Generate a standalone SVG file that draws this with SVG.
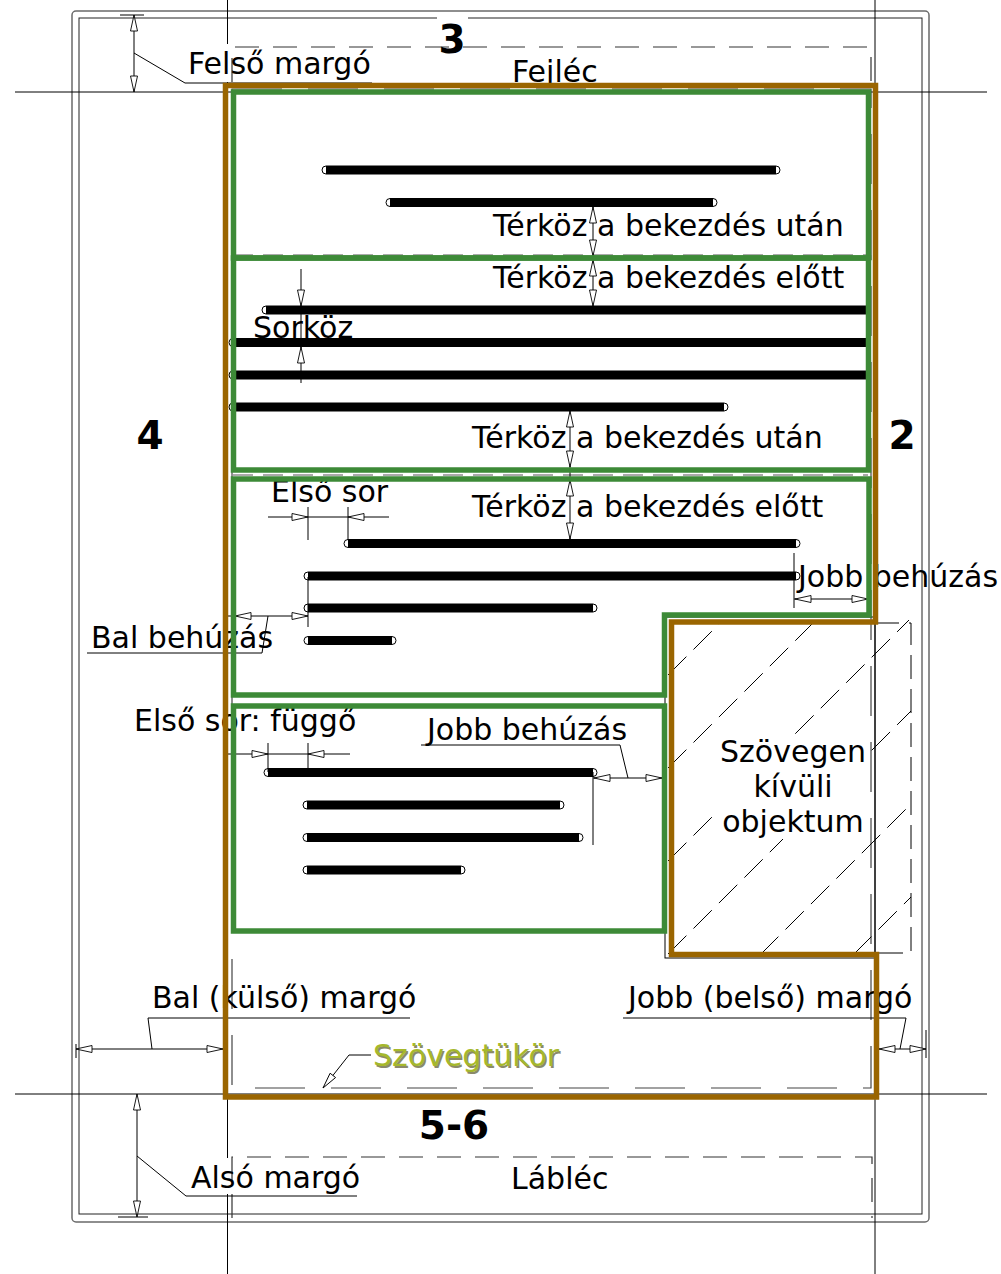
<svg xmlns="http://www.w3.org/2000/svg" xmlns:xlink="http://www.w3.org/1999/xlink" width="1001" height="1274" viewBox="0 0 1001 1274">
<style>
.t{font-family:"DejaVu Sans",Verdana,sans-serif;font-size:30px;fill:#000}
.n{font-family:"DejaVu Sans",Verdana,sans-serif;font-weight:bold;font-size:39px;fill:#000}
.gl{stroke:#000;stroke-width:1;fill:none}
.d{stroke:#000;stroke-width:1;fill:none}
.ah{fill:#fff;stroke:#000;stroke-width:0.9}
.gr{fill:none;stroke:#3d8a37;stroke-width:5.5}
.br{fill:none;stroke:#9a6500;stroke-width:5.5}
.dsh{fill:none;stroke:#333;stroke-width:1.2;stroke-dasharray:24 14}
.dsh2{fill:none;stroke:#444;stroke-width:1.2;stroke-dasharray:50 26}
.hat{stroke:#000;stroke-width:1;stroke-dasharray:26 10;fill:none}
.cap{fill:#fff;stroke:#000;stroke-width:1}
.bar{fill:#000}
.wb{fill:#fff}
</style>
<defs>
<path id="ah" class="ah" d="M0,0 L-16,-3.5 L-16,3.5 Z"/>
</defs>

<g id="page">
<rect x="72" y="11" width="857" height="1211" rx="4" fill="none" stroke="#6a6a6a" stroke-width="1.5"/>
<rect x="79" y="18" width="843" height="1196" fill="none" stroke="#222" stroke-width="1"/>
</g>

<g id="guides">
<line class="gl" x1="227.5" y1="0" x2="227.5" y2="1274"/>
<line class="gl" x1="875" y1="0" x2="875" y2="1274"/>
<line class="gl" x1="15" y1="92" x2="987" y2="92"/>
<line class="gl" x1="15" y1="1094" x2="987" y2="1094"/>
</g>

<g id="backgrounds">
<rect class="wb" x="186" y="44" width="186" height="38"/>
<rect class="wb" x="189" y="1158" width="170" height="36"/>
<rect class="wb" x="437" y="14" width="31" height="42"/>
</g>

<g id="header">
<path class="dsh" d="M232,82 V47 H871 V82"/>
</g>
<g id="footer">
<path class="dsh" d="M232,1218 V1157 H872 V1218"/>
</g>
<g id="text-area-outline">
<rect class="dsh2" x="232" y="89" width="639" height="999"/>
<line x1="233" y1="255" x2="868" y2="255" stroke="#555" stroke-width="1" stroke-dasharray="20 10"/>
<line x1="233" y1="475" x2="868" y2="475" stroke="#555" stroke-width="1" stroke-dasharray="20 10"/>
</g>

<g id="object">
<rect x="665" y="617" width="210" height="341" fill="none" stroke="#000" stroke-width="1"/>
<path d="M875,623 H911 V953 H875" fill="none" stroke="#000" stroke-width="1" stroke-dasharray="24 10"/>
<line class="hat" x1="668" y1="675" x2="723" y2="620"/>
<line class="hat" x1="668" y1="768" x2="816" y2="620"/>
<line class="hat" x1="668" y1="861" x2="909" y2="620"/>
<line class="hat" x1="668" y1="954" x2="911" y2="711"/>
<line class="hat" x1="760" y1="955" x2="911" y2="804"/>
<line class="hat" x1="853" y1="955" x2="911" y2="897"/>
<rect class="wb" x="718" y="737" width="150" height="102"/>
<text class="t" x="793" y="762" text-anchor="middle">Szövegen</text>
<text class="t" x="793" y="797" text-anchor="middle">kívüli</text>
<text class="t" x="793" y="832" text-anchor="middle">objektum</text>
</g>

<g id="labels">
<text class="n" x="452" y="53" text-anchor="middle">3</text>
<text class="n" x="150" y="449" text-anchor="middle">4</text>
<text class="n" x="902" y="449" text-anchor="middle">2</text>
<text class="n" x="454" y="1139" text-anchor="middle">5-6</text>
<text class="t" x="188" y="74">Felső margó</text>
<text class="t" x="512" y="82">Fejléc</text>
<text class="t" x="493" y="236">Térköz a bekezdés után</text>
<text class="t" x="493" y="288">Térköz a bekezdés előtt</text>
<text class="t" x="253" y="338">Sorköz</text>
<text class="t" x="472" y="448">Térköz a bekezdés után</text>
<text class="t" x="271" y="502">Első sor</text>
<text class="t" x="472" y="517">Térköz a bekezdés előtt</text>
<text class="t" x="798" y="587">Jobb behúzás</text>
<text class="t" x="91" y="648">Bal behúzás</text>
<text class="t" x="134" y="731">Első sor: függő</text>
<text class="t" x="427" y="740">Jobb behúzás</text>
<text class="t" x="152" y="1008">Bal (külső) margó</text>
<text class="t" x="628" y="1008">Jobb (belső) margó</text>
<text class="t" x="374.5" y="1067.5" style="fill:#8a8a6a">Szövegtükör</text>
<text class="t" x="373" y="1066" style="fill:#a6b82c">Szövegtükör</text>
<text class="t" x="191" y="1188">Alsó margó</text>
<text class="t" x="511" y="1189">Lábléc</text>
</g>

<g id="paragraph-lines">
<rect class="cap" x="322" y="166" width="458" height="8" rx="4"/><rect class="bar" x="326" y="166" width="450" height="8"/>
<rect class="cap" x="386" y="198.5" width="331" height="8" rx="4"/><rect class="bar" x="390" y="198.5" width="323" height="8"/>
<rect class="cap" x="262" y="306" width="608" height="8" rx="4"/><rect class="bar" x="266" y="306" width="600" height="8"/>
<rect class="cap" x="229" y="338.5" width="641" height="8" rx="4"/><rect class="bar" x="233" y="338.5" width="633" height="8"/>
<rect class="cap" x="229" y="371" width="641" height="8" rx="4"/><rect class="bar" x="233" y="371" width="633" height="8"/>
<rect class="cap" x="229" y="403" width="499" height="8" rx="4"/><rect class="bar" x="233" y="403" width="491" height="8"/>
<rect class="cap" x="344" y="539.5" width="456" height="8" rx="4"/><rect class="bar" x="348" y="539.5" width="448" height="8"/>
<rect class="cap" x="304" y="572" width="496" height="8" rx="4"/><rect class="bar" x="308" y="572" width="488" height="8"/>
<rect class="cap" x="304" y="604" width="293" height="8" rx="4"/><rect class="bar" x="308" y="604" width="285" height="8"/>
<rect class="cap" x="304" y="636.5" width="92" height="8" rx="4"/><rect class="bar" x="308" y="636.5" width="84" height="8"/>
<rect class="cap" x="264" y="768.5" width="333" height="8" rx="4"/><rect class="bar" x="268" y="768.5" width="325" height="8"/>
<rect class="cap" x="303" y="801" width="261" height="8" rx="4"/><rect class="bar" x="307" y="801" width="253" height="8"/>
<rect class="cap" x="303" y="833.5" width="280" height="8" rx="4"/><rect class="bar" x="307" y="833.5" width="272" height="8"/>
<rect class="cap" x="303" y="866" width="162" height="8" rx="4"/><rect class="bar" x="307" y="866" width="154" height="8"/>
</g>

<g id="connectors">
<line class="d" x1="134" y1="15" x2="134" y2="92"/>
<line class="d" x1="120" y1="15" x2="144" y2="15"/>
<use href="#ah" transform="translate(134,15) rotate(-90)"/>
<use href="#ah" transform="translate(134,92) rotate(90)"/>
<polyline class="d" points="134,53 185,83 372,83"/>
<line class="d" x1="137" y1="1094" x2="137" y2="1217"/>
<line class="d" x1="118" y1="1217" x2="148" y2="1217"/>
<use href="#ah" transform="translate(137,1094) rotate(-90)"/>
<use href="#ah" transform="translate(137,1217) rotate(90)"/>
<polyline class="d" points="137,1156 186,1196 357,1196"/>
<line class="d" x1="76" y1="1049" x2="224" y2="1049"/>
<line class="d" x1="76" y1="1044" x2="76" y2="1058"/>
<use href="#ah" transform="translate(76,1049) rotate(180)"/>
<use href="#ah" transform="translate(223,1049)"/>
<polyline class="d" points="152,1049 148,1018 410,1018"/>
<line class="d" x1="879" y1="1049" x2="926" y2="1049"/>
<line class="d" x1="926" y1="1030" x2="926" y2="1058"/>
<use href="#ah" transform="translate(879,1049) rotate(180)"/>
<use href="#ah" transform="translate(926,1049)"/>
<polyline class="d" points="900,1049 906,1018 623,1018"/>
<polyline class="d" points="371,1055 349,1055 323,1088"/>
<use href="#ah" transform="translate(323,1088) rotate(128)"/>
<line class="d" x1="593" y1="207" x2="593" y2="306"/>
<use href="#ah" transform="translate(593,207) rotate(-90)"/>
<use href="#ah" transform="translate(593,256) rotate(90)"/>
<use href="#ah" transform="translate(593,260) rotate(-90)"/>
<use href="#ah" transform="translate(593,306) rotate(90)"/>
<line class="d" x1="570" y1="411" x2="570" y2="539"/>
<use href="#ah" transform="translate(570,411) rotate(-90)"/>
<use href="#ah" transform="translate(570,467) rotate(90)"/>
<use href="#ah" transform="translate(570,480) rotate(-90)"/>
<use href="#ah" transform="translate(570,539) rotate(90)"/>
<line class="d" x1="301" y1="269" x2="301" y2="383"/>
<use href="#ah" transform="translate(301,306) rotate(90)"/>
<use href="#ah" transform="translate(301,347) rotate(-90)"/>
<line class="d" x1="268" y1="517" x2="389" y2="517"/>
<line class="d" x1="308" y1="507" x2="308" y2="540"/>
<line class="d" x1="348" y1="507" x2="348" y2="540"/>
<use href="#ah" transform="translate(308,517)"/>
<use href="#ah" transform="translate(348,517) rotate(180)"/>
<line class="d" x1="228" y1="616" x2="308" y2="616"/>
<line class="d" x1="308" y1="577" x2="308" y2="627"/>
<use href="#ah" transform="translate(235,616) rotate(180)"/>
<use href="#ah" transform="translate(308,616)"/>
<polyline class="d" points="268,616 262,653 87,653"/>
<line class="d" x1="794" y1="599" x2="869" y2="599"/>
<line class="d" x1="794" y1="553" x2="794" y2="608"/>
<use href="#ah" transform="translate(795,599) rotate(180)"/>
<use href="#ah" transform="translate(868,599)"/>
<line class="d" x1="228" y1="754" x2="350" y2="754"/>
<line class="d" x1="268" y1="743" x2="268" y2="772"/>
<line class="d" x1="308" y1="743" x2="308" y2="768"/>
<use href="#ah" transform="translate(268,754)"/>
<use href="#ah" transform="translate(308,754) rotate(180)"/>
<line class="d" x1="593" y1="778" x2="664" y2="778"/>
<line class="d" x1="593" y1="772" x2="593" y2="845"/>
<use href="#ah" transform="translate(594,778) rotate(180)"/>
<use href="#ah" transform="translate(662,778)"/>
<polyline class="d" points="628,778 620,745 421,745"/>
</g>

<g id="paragraph-1"><rect class="gr" x="233.5" y="92" width="635" height="166"/></g>
<g id="paragraph-2"><rect class="gr" x="233.5" y="258" width="635" height="212"/></g>
<g id="paragraph-3"><polygon class="gr" points="233.5,479 869,479 869,615 664.5,615 664.5,695 233.5,695"/></g>
<g id="paragraph-4"><rect class="gr" x="233.5" y="706" width="431" height="225"/></g>
<g id="text-body"><polygon class="br" points="225.5,85.5 875.5,85.5 875.5,622 671.5,622 671.5,954.5 876.5,954.5 876.5,1097 225.5,1097"/></g>
</svg>
